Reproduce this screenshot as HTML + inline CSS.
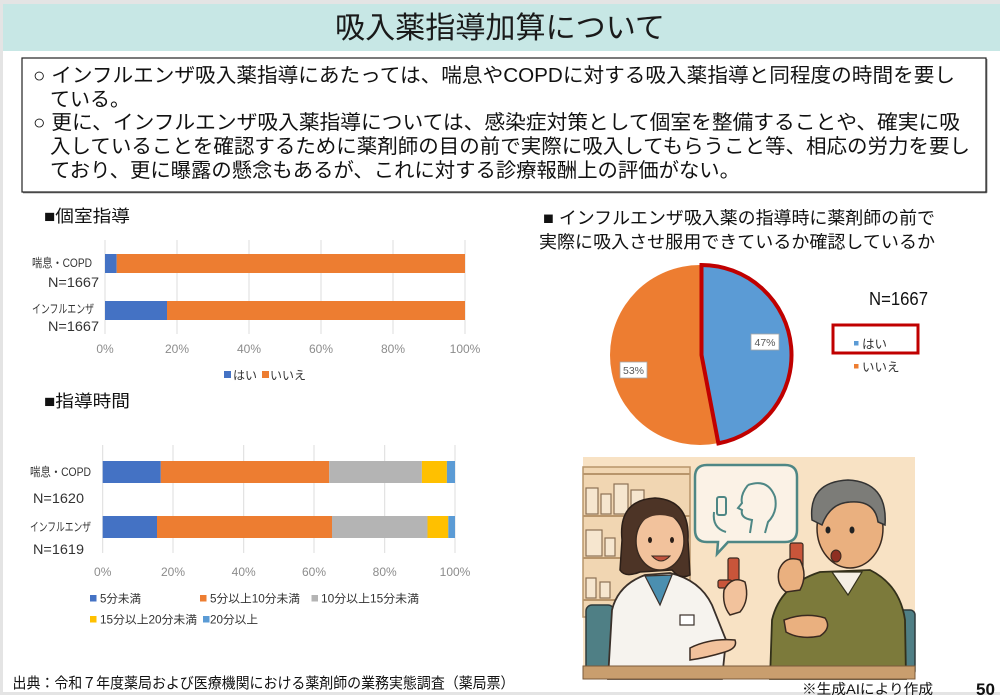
<!DOCTYPE html>
<html><head><meta charset="utf-8"><style>
html,body{margin:0;padding:0;background:#fff;}
svg{display:block;}
text{font-family:"Liberation Sans","Noto Sans CJK JP",sans-serif;}
</style></head><body>
<svg width="1000" height="695" viewBox="0 0 1000 695" xmlns="http://www.w3.org/2000/svg">
<rect x="0" y="0" width="1000" height="695" fill="#ffffff"/>
<rect x="0" y="0" width="1000" height="4" fill="#e4e4e4"/>
<rect x="0" y="0" width="3" height="695" fill="#e4e4e4"/>
<rect x="0" y="692" width="1000" height="3" fill="#e4e4e4"/>
<!-- header -->
<rect x="3" y="4" width="997" height="47" fill="#c7e7e5"/>
<text x="500" y="38" font-size="30" text-anchor="middle" textLength="330" lengthAdjust="spacingAndGlyphs" fill="#1a1a1a">吸入薬指導加算について</text>
<!-- text box -->
<rect x="22" y="58" width="964" height="134" fill="#fff" stroke="#222" stroke-width="1.2"/>
<line x1="23" y1="192.8" x2="986.8" y2="192.8" stroke="#555" stroke-width="1"/>
<line x1="986.8" y1="59" x2="986.8" y2="192.8" stroke="#555" stroke-width="1"/>
<g font-size="20" fill="#111">
<text x="33" y="82" textLength="922" lengthAdjust="spacingAndGlyphs">○ インフルエンザ吸入薬指導にあたっては、喘息やCOPDに対する吸入薬指導と同程度の時間を要し</text>
<text x="50" y="106" textLength="80" lengthAdjust="spacingAndGlyphs">ている。</text>
<text x="33" y="129" textLength="927" lengthAdjust="spacingAndGlyphs">○ 更に、インフルエンザ吸入薬指導については、感染症対策として個室を整備することや、確実に吸</text>
<text x="50" y="153" textLength="920" lengthAdjust="spacingAndGlyphs">入していることを確認するために薬剤師の目の前で実際に吸入してもらうこと等、相応の労力を要し</text>
<text x="50" y="177" textLength="690" lengthAdjust="spacingAndGlyphs">ており、更に曝露の懸念もあるが、これに対する診療報酬上の評価がない。</text>
</g>

<!-- chart 1 -->
<text x="44" y="222" font-size="17" fill="#111" textLength="86" lengthAdjust="spacingAndGlyphs">■個室指導</text>
<g stroke="#dcdcdc" stroke-width="1">
<line x1="105" y1="240" x2="105" y2="334"/><line x1="177" y1="240" x2="177" y2="334"/>
<line x1="249" y1="240" x2="249" y2="334"/><line x1="321" y1="240" x2="321" y2="334"/>
<line x1="393" y1="240" x2="393" y2="334"/><line x1="465" y1="240" x2="465" y2="334"/>
</g>
<rect x="105" y="254" width="11.7" height="19" fill="#4472c4"/>
<rect x="116.7" y="254" width="348.3" height="19" fill="#ed7d31"/>
<rect x="105" y="301" width="62" height="19" fill="#4472c4"/>
<rect x="167" y="301" width="298" height="19" fill="#ed7d31"/>
<g font-size="12" fill="#333">
<text x="92" y="267" text-anchor="end" textLength="60" lengthAdjust="spacingAndGlyphs">喘息・COPD</text>
<text x="99" y="287" text-anchor="end" font-size="14" textLength="51" lengthAdjust="spacingAndGlyphs">N=1667</text>
<text x="94" y="313" text-anchor="end" textLength="62" lengthAdjust="spacingAndGlyphs">インフルエンザ</text>
<text x="99" y="331" text-anchor="end" font-size="14" textLength="51" lengthAdjust="spacingAndGlyphs">N=1667</text>
</g>
<g font-size="12" fill="#8c8c8c" text-anchor="middle">
<text x="105" y="353">0%</text><text x="177" y="353">20%</text><text x="249" y="353">40%</text>
<text x="321" y="353">60%</text><text x="393" y="353">80%</text><text x="465" y="353">100%</text>
</g>
<rect x="224" y="371" width="7" height="7" fill="#4472c4"/>
<text x="233" y="379.5" font-size="12" fill="#333">はい</text>
<rect x="262" y="371" width="7" height="7" fill="#ed7d31"/>
<text x="270" y="379.5" font-size="12" fill="#333">いいえ</text>

<!-- chart 2 -->
<text x="44" y="407" font-size="17" fill="#111" textLength="86" lengthAdjust="spacingAndGlyphs">■指導時間</text>
<g stroke="#dcdcdc" stroke-width="1">
<line x1="102.7" y1="445" x2="102.7" y2="553"/><line x1="173" y1="445" x2="173" y2="553"/>
<line x1="243.7" y1="445" x2="243.7" y2="553"/><line x1="314" y1="445" x2="314" y2="553"/>
<line x1="384.7" y1="445" x2="384.7" y2="553"/><line x1="455" y1="445" x2="455" y2="553"/>
</g>
<rect x="102.7" y="461" width="58.1" height="22" fill="#4472c4"/>
<rect x="160.8" y="461" width="168.4" height="22" fill="#ed7d31"/>
<rect x="329.2" y="461" width="92.7" height="22" fill="#b4b4b4"/>
<rect x="421.9" y="461" width="25" height="22" fill="#ffc000"/>
<rect x="446.9" y="461" width="8.1" height="22" fill="#5b9bd5"/>
<rect x="102.7" y="516" width="54.3" height="22" fill="#4472c4"/>
<rect x="157" y="516" width="175" height="22" fill="#ed7d31"/>
<rect x="332" y="516" width="95.5" height="22" fill="#b4b4b4"/>
<rect x="427.5" y="516" width="20.8" height="22" fill="#ffc000"/>
<rect x="448.3" y="516" width="6.7" height="22" fill="#5b9bd5"/>
<g font-size="12" fill="#333">
<text x="30" y="476" textLength="61" lengthAdjust="spacingAndGlyphs">喘息・COPD</text>
<text x="33" y="503" font-size="14" textLength="51" lengthAdjust="spacingAndGlyphs">N=1620</text>
<text x="30" y="531" textLength="61" lengthAdjust="spacingAndGlyphs">インフルエンザ</text>
<text x="33" y="554" font-size="14" textLength="51" lengthAdjust="spacingAndGlyphs">N=1619</text>
</g>
<g font-size="12" fill="#8c8c8c" text-anchor="middle">
<text x="102.7" y="576">0%</text><text x="173" y="576">20%</text><text x="243.7" y="576">40%</text>
<text x="314" y="576">60%</text><text x="384.7" y="576">80%</text><text x="455" y="576">100%</text>
</g>
<g font-size="11.5" fill="#333">
<rect x="90" y="595" width="6.5" height="6.5" fill="#4472c4"/>
<text x="100" y="602.5" textLength="41" lengthAdjust="spacingAndGlyphs">5分未満</text>
<rect x="200" y="595" width="6.5" height="6.5" fill="#ed7d31"/>
<text x="210" y="602.5" textLength="90" lengthAdjust="spacingAndGlyphs">5分以上10分未満</text>
<rect x="311.5" y="595" width="6.5" height="6.5" fill="#b4b4b4"/>
<text x="321" y="602.5" textLength="98" lengthAdjust="spacingAndGlyphs">10分以上15分未満</text>
<rect x="90" y="616" width="6.5" height="6.5" fill="#ffc000"/>
<text x="100" y="623.5" textLength="97" lengthAdjust="spacingAndGlyphs">15分以上20分未満</text>
<rect x="203" y="616" width="6.5" height="6.5" fill="#5b9bd5"/>
<text x="210" y="623.5" textLength="48" lengthAdjust="spacingAndGlyphs">20分以上</text>
</g>

<!-- pie -->
<text x="543" y="224" font-size="17.5" fill="#111" textLength="392" lengthAdjust="spacingAndGlyphs">■ インフルエンザ吸入薬の指導時に薬剤師の前で</text>
<text x="539" y="248" font-size="17.5" fill="#111" textLength="396" lengthAdjust="spacingAndGlyphs">実際に吸入させ服用できているか確認しているか</text>
<circle cx="700" cy="355" r="90" fill="#ed7d31"/>
<path d="M700,355 L700,265 A90,90 0 0,1 716.9,443.4 Z" fill="#5b9bd5" stroke="#c00000" stroke-width="4" stroke-linejoin="miter" transform="translate(1.5,0)"/>
<rect x="751" y="334" width="28" height="16" fill="#fff" stroke="#a6a6a6" stroke-width="0.8"/>
<text x="765" y="346" font-size="10.5" fill="#595959" text-anchor="middle">47%</text>
<rect x="620" y="362" width="27" height="16" fill="#fff" stroke="#a6a6a6" stroke-width="0.8"/>
<text x="633.5" y="374" font-size="10.5" fill="#595959" text-anchor="middle">53%</text>
<text x="869" y="305" font-size="18" fill="#111" textLength="59" lengthAdjust="spacingAndGlyphs">N=1667</text>
<rect x="833" y="325" width="85" height="28" fill="none" stroke="#c00000" stroke-width="3"/>
<rect x="854" y="341" width="4.5" height="4.5" fill="#5b9bd5"/>
<text x="862" y="348.5" font-size="12.5" fill="#333">はい</text>
<rect x="854" y="364" width="4.5" height="4.5" fill="#ed7d31"/>
<text x="862" y="371.5" font-size="12.5" fill="#333">いいえ</text>

<!-- illustration -->
<g>
<rect x="583" y="457" width="332" height="222" fill="#f8e2c4"/>
<!-- shelves -->
<rect x="583" y="467" width="107" height="150" fill="#f1d6b2" stroke="#b8956b" stroke-width="1.5"/>
<g stroke="#b8956b" stroke-width="2">
<line x1="583" y1="474" x2="690" y2="474"/><line x1="583" y1="516" x2="690" y2="516"/>
<line x1="583" y1="558" x2="690" y2="558"/><line x1="583" y1="600" x2="690" y2="600"/>
</g>
<g fill="#f6e6cf" stroke="#8d7155" stroke-width="1.2">
<rect x="586" y="488" width="12" height="26"/><rect x="601" y="494" width="10" height="20"/>
<rect x="614" y="484" width="14" height="30"/><rect x="631" y="490" width="13" height="24"/>
<rect x="586" y="530" width="16" height="26"/><rect x="605" y="538" width="10" height="18"/>
<rect x="586" y="578" width="10" height="20"/><rect x="600" y="582" width="10" height="16"/>
</g>
<!-- speech bubble -->
<path d="M707,465 L785,465 Q797,465 797,477 L797,530 Q797,542 785,542 L728,542 L717,554 L718,542 L707,542 Q695,542 695,530 L695,477 Q695,465 707,465 Z" fill="#fbf2e6" stroke="#4e8785" stroke-width="2.5"/>
<g fill="none" stroke="#4e8785" stroke-width="2">
<path d="M748,485 Q768,478 775,497 Q778,512 768,522 L765,533"/>
<path d="M748,485 Q740,495 742,503 L738,508 L742,510 Q740,518 752,520 L750,533"/>
<rect x="717" y="497" width="9" height="18" rx="2"/>
<path d="M714,512 Q712,528 726,532"/>
</g>
<!-- chairs -->
<rect x="586" y="605" width="28" height="70" rx="6" fill="#4f7f85" stroke="#2f3b3d" stroke-width="1.5"/>
<rect x="896" y="610" width="19" height="66" rx="5" fill="#4f7f85" stroke="#2f3b3d" stroke-width="1.5"/>
<!-- woman -->
<path d="M608,679 L612,610 Q618,585 645,575 L670,573 Q700,580 712,605 L726,640 L722,679 Z" fill="#f6f3ee" stroke="#3a302a" stroke-width="1.8"/>
<path d="M645,576 L660,605 L672,575 Z" fill="#4b8fb0" stroke="#3a302a" stroke-width="1.2"/>
<rect x="680" y="615" width="14" height="10" fill="#fff" stroke="#3a302a" stroke-width="1.2"/>
<path d="M622,540 Q618,500 655,498 Q690,500 688,540 L690,575 Q680,580 672,570 L640,572 Q625,578 620,570 Z" fill="#4d3426" stroke="#2c1f18" stroke-width="1.5"/>
<ellipse cx="660" cy="541" rx="24" ry="29" fill="#f2c29c" stroke="#3a2a20" stroke-width="1.5"/>
<path d="M636,530 Q650,505 684,522 Q672,505 655,508 Q640,512 636,530 Z" fill="#4d3426"/>
<ellipse cx="650" cy="540" rx="2" ry="3" fill="#2a1d16"/><ellipse cx="672" cy="540" rx="2" ry="3" fill="#2a1d16"/>
<path d="M652,556 Q661,566 670,556 Z" fill="#c0533e" stroke="#3a2a20" stroke-width="1"/>
<!-- woman hand + inhaler -->
<path d="M690,648 Q710,638 735,640 Q738,648 725,652 Q705,658 690,660 Z" fill="#f2c29c" stroke="#3a2a20" stroke-width="1.5"/>
<rect x="728" y="558" width="11" height="26" rx="2" fill="#c9553a" stroke="#3a2a20" stroke-width="1.2"/>
<rect x="718" y="580" width="14" height="8" rx="2" fill="#c9553a" stroke="#3a2a20" stroke-width="1.2"/>
<path d="M724,590 Q732,575 745,582 Q750,600 740,612 L730,615 Q722,605 724,590 Z" fill="#f2c29c" stroke="#3a2a20" stroke-width="1.5"/>
<!-- man -->
<path d="M770,679 L772,620 Q780,585 820,572 L870,570 Q900,585 905,620 L906,679 Z" fill="#7c7a3b" stroke="#33301a" stroke-width="1.8"/>
<path d="M832,572 L848,595 L862,572 Z" fill="#f4efe4" stroke="#33301a" stroke-width="1.2"/>
<ellipse cx="850" cy="528" rx="33" ry="40" fill="#eab07f" stroke="#3a2a20" stroke-width="1.5"/>
<path d="M812,520 Q808,482 848,480 Q888,482 885,525 L878,522 Q875,500 850,502 Q830,503 822,525 Z" fill="#7c7c78" stroke="#333" stroke-width="1.5"/>
<ellipse cx="828" cy="530" rx="2.5" ry="3.5" fill="#222"/><ellipse cx="852" cy="530" rx="2.5" ry="3.5" fill="#222"/>
<ellipse cx="836" cy="556" rx="5" ry="6" fill="#8e2f22" stroke="#3a2a20" stroke-width="1"/>
<!-- man inhaler & hands -->
<rect x="790" y="543" width="13" height="28" rx="2" fill="#c9553a" stroke="#3a2a20" stroke-width="1.2"/>
<path d="M779,570 Q785,555 800,560 Q808,575 800,590 L786,592 Q776,585 779,570 Z" fill="#eab07f" stroke="#3a2a20" stroke-width="1.5"/>
<path d="M784,620 Q805,612 825,618 Q832,628 820,636 Q800,640 786,632 Z" fill="#eab07f" stroke="#3a2a20" stroke-width="1.5"/>
<!-- counter -->
<rect x="583" y="666" width="332" height="13" fill="#c99e6e" stroke="#7a5a3a" stroke-width="1"/>
</g>

<!-- footer -->
<text x="12.5" y="688" font-size="15" fill="#111" textLength="502" lengthAdjust="spacingAndGlyphs">出典：令和７年度薬局および医療機関における薬剤師の業務実態調査（薬局票）</text>
<text x="802" y="694" font-size="14" fill="#111" textLength="131" lengthAdjust="spacingAndGlyphs">※生成AIにより作成</text>
<text x="976" y="695" font-size="17" font-weight="bold" fill="#111">50</text>
</svg>
</body></html>
